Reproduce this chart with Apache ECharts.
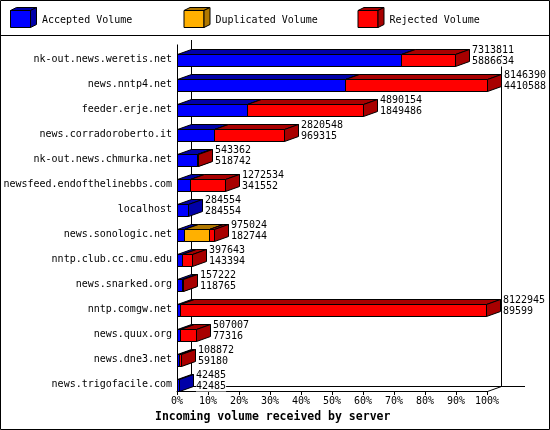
<!DOCTYPE html>
<html>
<head>
<meta charset="utf-8">
<script src="https://cdn.jsdelivr.net/npm/echarts@6/dist/echarts.min.js"></script>
<style>
html,body{margin:0;padding:0;background:#fff;}
#c{width:550px;height:430px;}
</style>
</head>
<body>
<div id="c"></div>
<script>
const categories = [
  'nk-out.news.weretis.net', 'news.nntp4.net', 'feeder.erje.net', 'news.corradoroberto.it',
  'nk-out.news.chmurka.net', 'newsfeed.endofthelinebbs.com', 'localhost', 'news.sonologic.net',
  'nntp.club.cc.cmu.edu', 'news.snarked.org', 'nntp.comgw.net', 'news.quux.org',
  'news.dne3.net', 'news.trigofacile.com'
];
const accepted   = [5886634, 4410588, 1849486, 969315, 518742, 341552, 284554, 182744, 143394, 118765, 89599, 77316, 59180, 42485];
const duplicated = [0, 0, 0, 0, 0, 0, 0, 650000, 0, 0, 0, 0, 0, 0];
const rejected   = [1427177, 3735802, 3040668, 1851233, 24620, 930982, 0, 142280, 254249, 38457, 8033346, 429691, 49692, 0];
const seriesNames = ['Accepted Volume', 'Duplicated Volume', 'Rejected Volume'];
const tickLabels = ['0%', '10%', '20%', '30%', '40%', '50%', '60%', '70%', '80%', '90%', '100%'];
const axisTitle = 'Incoming volume received by server';

const FONT = '"DejaVu Sans Mono", "Liberation Mono", monospace';
const frontColors = ['#0000ff', '#ffb000', '#ff0000'];
const darkColors  = ['#0000a8', '#b07800', '#a80000'];
const DX = 14, DY = 5, BAR_H = 12;

const totals = categories.map((_, i) => accepted[i] + duplicated[i] + rejected[i]);
const maxTotal = Math.max.apply(null, totals);
const pct = v => v / maxTotal * 100;

const layers = [accepted, duplicated, rejected];
const segData = layers.map((arr, k) => categories.map((_, i) => {
  let s = 0;
  for (let j = 0; j < k; j++) s += layers[j][i];
  return [i, pct(s), pct(s + arr[i])];
}));

function crisp(v) { return Math.round(v) + 0.5; }

function makeRender(k) {
  return function (params, api) {
    const i = api.value(0), s = api.value(1), e = api.value(2);
    if (!(e - s > 0)) return null;
    const a = api.coord([s, i]);
    const b = api.coord([e, i]);
    const x0 = crisp(a[0]), x1 = crisp(b[0]);
    const t = crisp(a[1] - BAR_H / 2), bt = t + BAR_H;
    const st = { stroke: '#000', lineWidth: 1 };
    return {
      type: 'group',
      children: [
        { type: 'rect', shape: { x: x0, y: t, width: x1 - x0, height: BAR_H },
          style: Object.assign({ fill: frontColors[k] }, st) },
        { type: 'polygon', shape: { points: [[x0, t], [x0 + DX, t - DY], [x1 + DX, t - DY], [x1, t]] },
          style: Object.assign({ fill: darkColors[k] }, st) },
        { type: 'polygon', shape: { points: [[x1, t], [x1 + DX, t - DY], [x1 + DX, bt - DY], [x1, bt]] },
          style: Object.assign({ fill: darkColors[k] }, st) }
      ]
    };
  };
}

const labelData = categories.map((_, i) => [i, pct(totals[i]), totals[i], accepted[i]]);

const series = layers.map((arr, k) => ({
  type: 'custom',
  name: seriesNames[k],
  renderItem: makeRender(k),
  encode: { x: [1, 2], y: 0 },
  data: segData[k],
  z: 2 + k,
  silent: true
}));
series.push({
  type: 'custom',
  name: 'labels',
  renderItem: function (params, api) {
    const i = api.value(0);
    const p = api.coord([api.value(1), i]);
    const x = Math.round(p[0]) + DX + 3;
    const yc = p[1];
    const mk = (txt, y) => ({ type: 'text', x: x, y: y,
      style: { text: txt, font: '10px ' + FONT, fill: '#000', backgroundColor: '#fff',
        textAlign: 'left', textVerticalAlign: 'middle' } });
    return {
      type: 'group',
      children: [ mk(String(api.value(2)), yc - 9.5), mk(String(api.value(3)), yc + 2) ]
    };
  },
  encode: { x: 1, y: 0 },
  data: labelData,
  z: 10,
  silent: true
});

const chart = echarts.init(document.getElementById('c'), null, { renderer: 'canvas' });

const GRID = { left: 177, right: 63, top: 47, bottom: 33 };
const AXIS_OFFSET = -6;

const option = {
  animation: false,
  backgroundColor: '#fff',
  grid: GRID,
  xAxis: {
    type: 'value', min: 0, max: 100, interval: 10, offset: AXIS_OFFSET,
    axisLine: { show: true, lineStyle: { color: '#000', width: 1 } },
    axisTick: { show: true, length: 4, lineStyle: { color: '#000' } },
    axisLabel: { color: '#000', fontFamily: FONT, fontSize: 10, margin: 5,
      formatter: v => tickLabels[Math.round(v / 10)] },
    splitLine: { show: false }
  },
  yAxis: {
    type: 'category', data: categories, inverse: true,
    axisLine: { show: false }, axisTick: { show: false },
    axisLabel: { color: '#000', fontFamily: FONT, fontSize: 10, margin: 5 },
    splitLine: { show: false }
  },
  series: series
};
chart.setOption(option);

// frame / decorations
const X0 = chart.convertToPixel({ xAxisIndex: 0 }, 0);
const X100 = chart.convertToPixel({ xAxisIndex: 0 }, 100);
const FY = 430 - GRID.bottom + AXIS_OFFSET + 0.5;
const L = (x1, y1, x2, y2, z) => ({ type: 'line', z: z || 0, silent: true,
  shape: { x1: x1, y1: y1, x2: x2, y2: y2 }, style: { stroke: '#000', lineWidth: 1 } });
const cx0 = crisp(X0), cx100 = crisp(X100);
const graphics = [
  { type: 'rect', z: 100, silent: true, shape: { x: 0.5, y: 0.5, width: 549, height: 429 }, style: { fill: null, stroke: '#000', lineWidth: 1 } },
  L(0, 35.5, 550, 35.5, 100),
  L(cx0, 44.5, cx0, FY, 0),
  L(cx0 + DX, 40, cx0 + DX, FY - DY, 0),
  L(cx0, FY, cx0 + DX, FY - DY, 0),
  L(cx0 + DX, FY - DY, 525, FY - DY, 0),
  L(cx100 + DX, 45, cx100 + DX, FY - DY, 0),
  L(cx100, FY, cx100 + DX, FY - DY, 0),
  { type: 'text', z: 100, silent: true, x: 155, y: 417,
    style: { text: axisTitle, font: 'bold 11.5px ' + FONT, fill: '#000', textAlign: 'left', textVerticalAlign: 'middle' } }
];
const legendX = [10, 183.5, 357.5];
seriesNames.forEach((n, k) => {
  const x = legendX[k] + 0.5, y = 10.5, w = 20, h = 17, dx = 6, dy = 3;
  const st = { stroke: '#000', lineWidth: 1 };
  graphics.push(
    { type: 'rect', z: 100, silent: true, shape: { x: x, y: y, width: w, height: h }, style: Object.assign({ fill: frontColors[k] }, st) },
    { type: 'polygon', z: 100, silent: true, shape: { points: [[x, y], [x + dx, y - dy], [x + w + dx, y - dy], [x + w, y]] }, style: Object.assign({ fill: darkColors[k] }, st) },
    { type: 'polygon', z: 100, silent: true, shape: { points: [[x + w, y], [x + w + dx, y - dy], [x + w + dx, y + h - dy], [x + w, y + h]] }, style: Object.assign({ fill: darkColors[k] }, st) },
    { type: 'text', z: 100, silent: true, x: legendX[k] + 32, y: 20,
      style: { text: n, font: '10px ' + FONT, fill: '#000', textAlign: 'left', textVerticalAlign: 'middle' } }
  );
});
chart.setOption({ graphic: { elements: graphics } });
</script>
</body>
</html>
